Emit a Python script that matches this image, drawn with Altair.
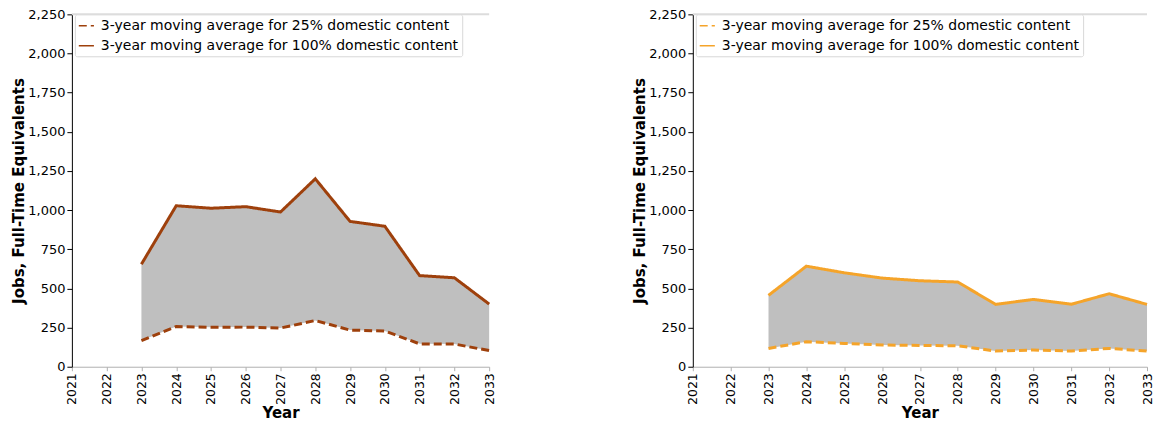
import altair as alt
import pandas as pd

years = list(range(2023, 2034))
left_100 = [655, 1028, 1012, 1022, 988, 1200, 928, 897, 582, 568, 400]
left_25 = [167, 257, 252, 253, 247, 295, 234, 228, 146, 145, 103]
right_100 = [456, 642, 600, 566, 549, 541, 398, 430, 399, 466, 398]
right_25 = [117, 160, 149, 139, 136, 134, 100, 107, 100, 117, 100]

s25 = "3-year moving average for 25% domestic content"
s100 = "3-year moving average for 100% domestic content"
year_ticks = list(range(2021, 2034))
y_ticks = list(range(0, 2251, 250))

FONT = "DejaVu Sans"


def panel(hi, lo, color, width, height):
    wide = pd.DataFrame({"Year": years, "hi": hi, "lo": lo})
    long = pd.DataFrame({
        "Year": years + years,
        "value": lo + hi,
        "series": [s25] * len(years) + [s100] * len(years),
    })
    xaxis = alt.Axis(values=year_ticks, format="d", labelAngle=270, title="Year",
                     domainColor="#b0b0b0", tickColor="#b0b0b0", grid=False,
                     tickSize=4, labelPadding=2, titlePadding=1, labelFontSize=12.5)
    yaxis = alt.Axis(values=y_ticks, format=",.0f", title="Jobs, Full-Time Equivalents",
                     domainColor="black", tickColor="black", grid=False,
                     tickSize=5, labelPadding=2, titlePadding=1)
    xs = alt.Scale(domain=[2021, 2033], nice=False, zero=False)
    ys = alt.Scale(domain=[0, 2250], nice=False)

    area = alt.Chart(wide).mark_area(color="#bfbfbf", opacity=1).encode(
        x=alt.X("Year:Q", scale=xs, axis=xaxis, title="Year"),
        y=alt.Y("hi:Q", scale=ys, axis=yaxis, title="Jobs, Full-Time Equivalents"),
        y2="lo:Q",
    )
    leg = alt.Legend(title=None, orient="none", legendX=3, legendY=0,
                     strokeColor="#d8d8d8", fillColor="white", padding=3,
                     labelFontSize=14, labelFont=FONT, labelColor="black",
                     symbolType="stroke", symbolSize=230, symbolStrokeWidth=1.5,
                     rowPadding=4, labelLimit=0, cornerRadius=2, labelOffset=6)
    line = alt.Chart(long).mark_line(strokeWidth=3).encode(
        x=alt.X("Year:Q", scale=xs, axis=xaxis, title="Year"),
        y=alt.Y("value:Q", scale=ys, axis=yaxis, title="Jobs, Full-Time Equivalents"),
        color=alt.Color("series:N", scale=alt.Scale(domain=[s25, s100], range=[color, color]),
                        legend=leg, title=None),
        strokeDash=alt.StrokeDash("series:N",
                                  scale=alt.Scale(domain=[s25, s100], range=[[8, 4], [1, 0]]),
                                  legend=leg, title=None),
    )
    top = alt.Chart(pd.DataFrame({"t": [2250]})).mark_rule(color="#dcdcdc", strokeWidth=2).encode(
        y=alt.Y("t:Q", scale=ys, axis=yaxis, title="Jobs, Full-Time Equivalents"),
    )
    return alt.layer(area, line, top).properties(width=width, height=height)


left = panel(left_100, left_25, "#9E400C", 418, 353)
right = panel(right_100, right_25, "#F5A42A", 455, 353)

chart = alt.hconcat(left, right, spacing=136).resolve_scale(
    color="independent", strokeDash="independent"
).properties(
    padding={"left": 3, "top": 0, "right": 0, "bottom": 0}
).configure_view(strokeWidth=0).configure_axis(
    labelFont=FONT, labelFontSize=13, labelColor="black",
    titleFont=FONT, titleFontSize=15, titleFontWeight="bold", titleColor="black",
)

chart.save("out.html", embed_options={"renderer": "svg", "actions": False})
